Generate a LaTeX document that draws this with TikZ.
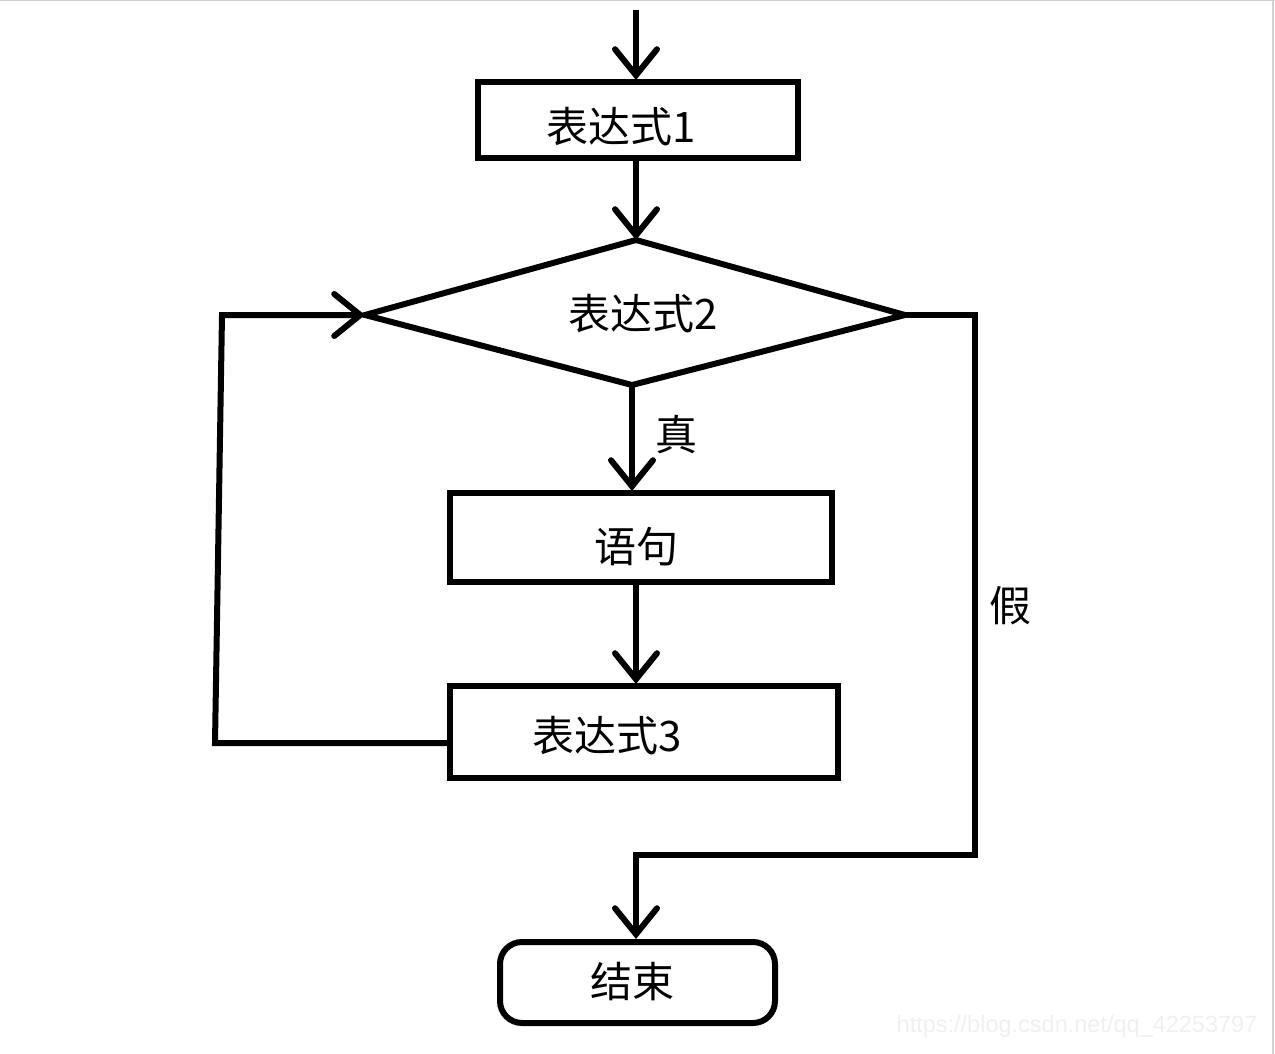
\documentclass[tikz,border=0pt]{standalone}
\usepackage{fontspec}
\setmainfont{Noto Sans CJK SC}
\newfontfamily\wmfont{Liberation Sans}
\usetikzlibrary{arrows.meta,shapes.geometric}
\begin{document}
\begin{tikzpicture}[x=1pt,y=-1pt,
  line width=6pt,
  every node/.style={font=\fontsize{42}{46}\selectfont},
  box/.style={draw, rectangle, inner sep=0pt, line width=6pt},
  conn/.style={line width=6pt, line join=miter},
  arr/.style={conn, -{Straight Barb[length=26pt,width=42pt,line cap=round]}},
  lbl/.style={font=\fontsize{42}{46}\selectfont}]
\useasboundingbox (0,0) rectangle (1275,1054);
\fill[white] (0,0) rectangle (1275,1054);
\draw[line width=1.5pt, black!18] (0,0.75) -- (1275,0.75);
\draw[line width=1.5pt, black!18] (1273,0) -- (1273,1054);
% nodes
\node[box, minimum width=320pt, minimum height=76pt] (e1) at (638,120) {};
\node at (621,127) {表达式1};
\coordinate (d2t) at (636,240);
\coordinate (d2l) at (365,315);
\coordinate (d2r) at (905,315);
\coordinate (d2b) at (632,385);
\draw[conn, line join=miter] (d2t) -- (d2r) -- (d2b) -- (d2l) -- cycle;
\node (d2) at (643,314) {表达式2};
\node[box, minimum width=382pt, minimum height=89pt] (s) at (641,537.5) {};
\node at (636,547) {语句};
\node[box, minimum width=388pt, minimum height=92pt] (e3) at (644,732) {};
\node at (607,736) {表达式3};
\node[draw, rounded corners=22pt, line width=6pt, minimum width=275pt, minimum height=81pt, inner sep=0pt] (end) at (637.5,982.5) {};
\node at (632,982) {结束};
% connectors
\coordinate (start) at (636,10);
\draw[arr] (start) -- (636,80);
\draw[arr] (636,161) -- (d2t);
\draw[arr] (d2b) -- (632,491);
\node[lbl] (t) at (676,434) {真};
\draw[arr] (636,585) -- (636,684);
\coordinate (lb) at (215,743);
\coordinate (lt) at (222,315);
\draw[arr] (e3.west |- 0,743) -- (lb) -- (lt) -- (d2l);
\coordinate (rt) at (975,315);
\coordinate (rb) at (975,855);
\coordinate (ml) at (636,855);
\draw[arr] (d2r) -- (rt) -- (rb) -- (ml) -- (636,939);
\node[lbl] (f) at (1010,606) {假};
\node[text=black!6, font=\fontsize{23.5}{26}\selectfont\wmfont, inner sep=0pt] (wm) at (1077,1026) {https://blog.csdn.net/qq\_42253797};
\end{tikzpicture}
\end{document}
